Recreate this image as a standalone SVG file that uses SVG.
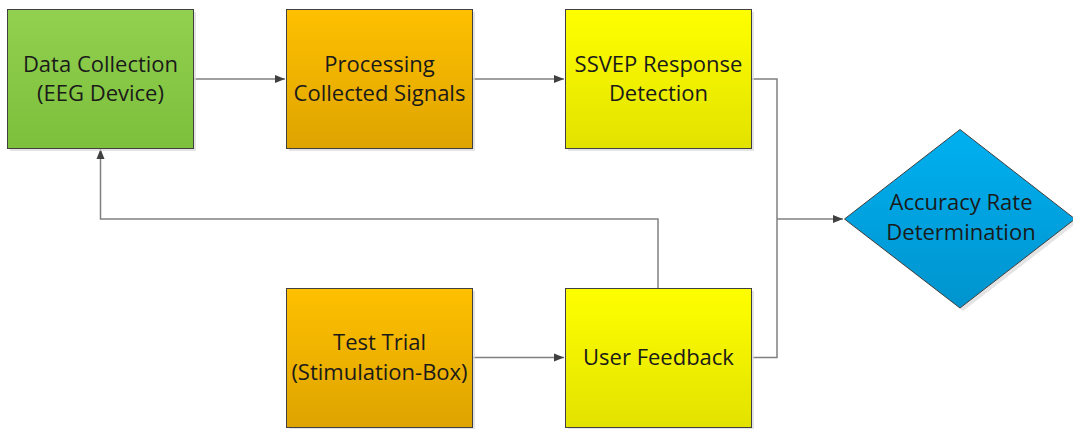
<svg xmlns="http://www.w3.org/2000/svg" width="1073" height="429" viewBox="0 0 1073 429">
  <style>
    .box { stroke: #404040; stroke-width: 1; }
    .shadow { fill: #d9d9d9; opacity: 0.7; }
    .label { font-family: "Open Sans", "Noto Sans", sans-serif; font-size: 22px; fill: #1a1a1a; text-anchor: middle; }
    .wire { fill: none; stroke: #808080; stroke-width: 1.5; }
  </style>
  <defs>
    <linearGradient id="gGreen" x1="0" y1="0" x2="0" y2="1">
      <stop offset="0" stop-color="#92d050"/>
      <stop offset="1" stop-color="#7cc03b"/>
    </linearGradient>
    <linearGradient id="gOrange" x1="0" y1="0" x2="0" y2="1">
      <stop offset="0" stop-color="#ffc000"/>
      <stop offset="1" stop-color="#dea400"/>
    </linearGradient>
    <linearGradient id="gYellow" x1="0" y1="0" x2="0" y2="1">
      <stop offset="0" stop-color="#ffff00"/>
      <stop offset="1" stop-color="#e2e200"/>
    </linearGradient>
    <linearGradient id="gBlue" x1="0" y1="0" x2="0" y2="1">
      <stop offset="0" stop-color="#00b0f0"/>
      <stop offset="1" stop-color="#0094ce"/>
    </linearGradient>
    <marker id="arrow" viewBox="0 0 10 10" refX="10" refY="5" markerWidth="10" markerHeight="10" markerUnits="userSpaceOnUse" orient="auto">
      <path d="M0,1 L10,5 L0,9 Z" fill="#404040"/>
    </marker>
  </defs>

  <!-- connectors -->
  <g id="connectors">
    <path class="wire" d="M193.5,79 H285" marker-end="url(#arrow)"/>
    <path class="wire" d="M472.5,79 H564" marker-end="url(#arrow)"/>
    <path class="wire" d="M751.5,79 H777 V357.5 H752.5"/>
    <path class="wire" d="M777,219 H843" marker-end="url(#arrow)"/>
    <path class="wire" d="M472.5,357.5 H564" marker-end="url(#arrow)"/>
    <path class="wire" d="M658,288 V219 H100.5 V149" marker-end="url(#arrow)"/>
  </g>

  <!-- Data Collection -->
  <g id="data-collection">
    <rect class="shadow" x="10" y="12" width="186" height="139"/>
    <rect class="box" x="7.5" y="9.5" width="186" height="139" fill="url(#gGreen)"/>
    <text class="label" x="100.5" y="72">Data Collection</text>
    <text class="label" x="100.5" y="101">(EEG Device)</text>
  </g>

  <!-- Processing -->
  <g id="processing">
    <rect class="shadow" x="289" y="12" width="186" height="139"/>
    <rect class="box" x="286.5" y="9.5" width="186" height="139" fill="url(#gOrange)"/>
    <text class="label" x="379.5" y="72">Processing</text>
    <text class="label" x="379.5" y="101">Collected Signals</text>
  </g>

  <!-- SSVEP detection -->
  <g id="ssvep-detection">
    <rect class="shadow" x="568" y="12" width="186" height="139"/>
    <rect class="box" x="565.5" y="9.5" width="186" height="139" fill="url(#gYellow)"/>
    <text class="label" x="658.5" y="72">SSVEP Response</text>
    <text class="label" x="658.5" y="101">Detection</text>
  </g>

  <!-- Test Trial -->
  <g id="test-trial">
    <rect class="shadow" x="289" y="291" width="186" height="139"/>
    <rect class="box" x="286.5" y="288.5" width="186" height="139" fill="url(#gOrange)"/>
    <text class="label" x="379.5" y="350">Test Trial</text>
    <text class="label" x="379.5" y="380">(Stimulation-Box)</text>
  </g>

  <!-- User Feedback -->
  <g id="user-feedback">
    <rect class="shadow" x="568" y="291" width="186" height="139"/>
    <rect class="box" x="565.5" y="288.5" width="186" height="139" fill="url(#gYellow)"/>
    <text class="label" x="658.5" y="365">User Feedback</text>
  </g>

  <!-- Accuracy Rate Determination -->
  <g id="accuracy-rate">
    <polygon class="shadow" points="963,132 1078,222 963,311 847,222"/>
    <polygon class="box" points="960,129.5 1075,219 960,308 844.5,219" fill="url(#gBlue)"/>
    <text class="label" x="961" y="210">Accuracy Rate</text>
    <text class="label" x="961" y="240">Determination</text>
  </g>
</svg>
